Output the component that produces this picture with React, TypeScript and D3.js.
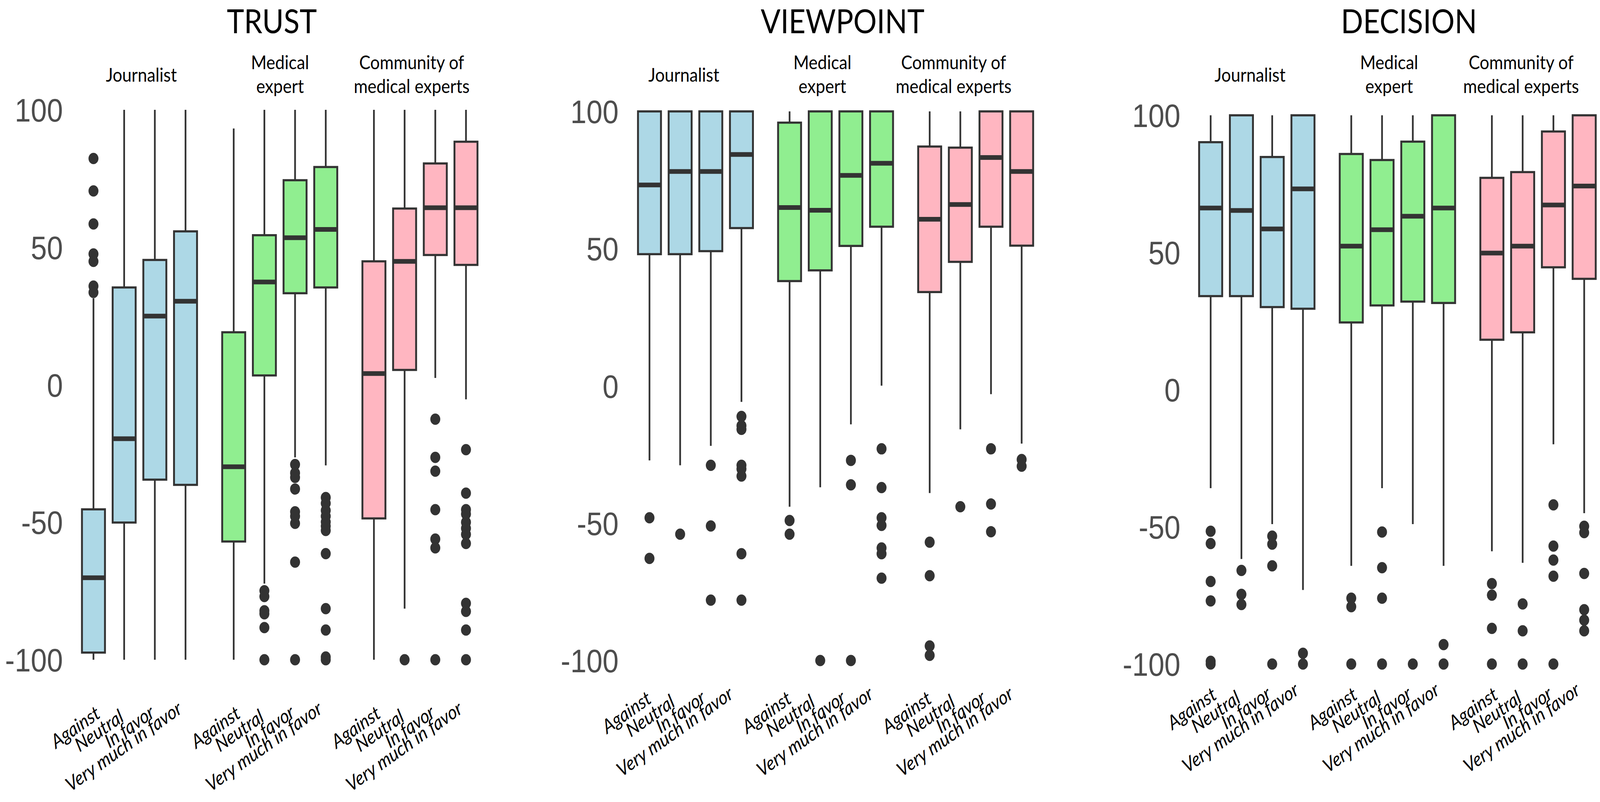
import React from 'react';
import * as d3 from 'd3';

// Box plots of three ratings by source and by prior attitude.
const CATEGORIES = ['Against', 'Neutral', 'In favor', 'Very much in favor'];
const GROUP_LINES = [['Journalist'], ['Medical', 'expert'], ['Community of', 'medical experts']];
const GROUP_COLORS = ['#ADD8E6', '#90EE90', '#FFB6C1'];
const Y_TICKS = [100, 50, 0, -50, -100];
const PANEL_TITLES = ['TRUST', 'VIEWPOINT', 'DECISION'];

// [lower whisker, Q1, median, Q3, upper whisker]; Journalist x4, Medical expert x4, Community x4
const TRUST_BOXES = [
  [-100, -97.4, -70.2, -45.3, 31.5],
  [-100, -50.1, -19.6, 35.4, 100],
  [-100, -34.5, 25.0, 45.4, 100],
  [-100, -36.4, 30.4, 55.8, 100],
  [-100, -57.0, -29.8, 19.1, 93.2],
  [-72.3, 3.4, 37.4, 54.4, 100],
  [-26.4, 33.3, 53.5, 74.4, 100],
  [-29.3, 35.4, 56.5, 79.2, 100],
  [-100, -48.6, 4.1, 44.9, 100],
  [-81.4, 5.4, 44.9, 64.1, 100],
  [2.5, 47.2, 64.4, 80.5, 100],
  [-5.3, 43.6, 64.4, 88.4, 100],
];
const TRUST_OUTLIERS = [
  [82.3, 70.5, 58.5, 47.6, 44.9, 35.9, 33.6],
  [],
  [],
  [],
  [],
  [-74.9, -77.0, -82.2, -83.3, -88.3, -100],
  [-29.0, -32.1, -33.7, -37.9, -46.2, -47.8, -50.4, -64.5, -100],
  [-41.0, -43.1, -45.7, -47.8, -49.9, -51.4, -53.0, -61.4, -81.4, -89.2, -99, -100],
  [],
  [-100],
  [-12.5, -26.4, -31.4, -45.4, -56.1, -59.3, -100],
  [-23.6, -39.4, -45.4, -47.0, -50.0, -52.2, -54.4, -57.7, -79.5, -82.4, -89.2, -100],
];

const VIEWPOINT_BOXES = [
  [-27.1, 48.0, 73.2, 100, 100],
  [-28.9, 48.0, 78.1, 100, 100],
  [-21.8, 49.1, 78.1, 100, 100],
  [-5.8, 57.5, 84.3, 100, 100],
  [-44.0, 38.2, 65.0, 95.9, 100],
  [-36.9, 42.1, 64.0, 100, 100],
  [-14.0, 51.0, 76.7, 100, 100],
  [0.1, 58.0, 81.1, 100, 100],
  [-39.0, 34.2, 60.7, 87.2, 100],
  [-15.8, 45.2, 66.1, 86.8, 100],
  [-3.0, 58.0, 83.2, 100, 100],
  [-21.0, 51.1, 78.1, 100, 100],
];
const VIEWPOINT_OUTLIERS = [
  [-48.0, -62.8],
  [-54.0],
  [-28.9, -51.0, -78.0],
  [-11.1, -14.5, -15.8, -28.9, -30.2, -32.8, -61.1, -78.0],
  [-49.0, -54.0],
  [-100],
  [-27.1, -36.0, -100],
  [-22.9, -37.0, -48.0, -50.8, -59.0, -61.1, -70.0],
  [-56.9, -69.1, -94.7, -98.1],
  [-44.0],
  [-22.9, -43.0, -53.1],
  [-26.8, -29.2],
];

const DECISION_BOXES = [
  [-35.9, 34.1, 66.2, 90.2, 100],
  [-61.7, 34.1, 65.3, 100, 100],
  [-49.0, 30.1, 58.6, 84.8, 100],
  [-73.0, 29.5, 73.2, 100, 100],
  [-64.2, 24.5, 52.3, 85.9, 100],
  [-35.9, 30.7, 58.3, 83.7, 100],
  [-49.0, 32.1, 63.2, 90.4, 100],
  [-64.2, 31.6, 66.2, 100, 100],
  [-58.9, 18.2, 49.8, 77.2, 100],
  [-63.1, 20.9, 52.3, 79.3, 100],
  [-19.9, 44.6, 67.3, 94.1, 100],
  [-45.0, 40.4, 74.2, 100, 100],
];
const DECISION_OUTLIERS = [
  [-51.6, -56.1, -69.9, -77.0, -99, -100],
  [-65.9, -74.6, -78.3],
  [-53.4, -56.3, -64.2, -100],
  [-96.1, -100],
  [-76.0, -79.1, -100],
  [-51.9, -64.9, -76.0, -100],
  [-100],
  [-92.9, -100],
  [-70.7, -74.9, -87.0, -100],
  [-78.1, -87.9, -100],
  [-42.0, -57.0, -62.1, -68.0, -100],
  [-49.8, -52.1, -67.0, -80.2, -84.0, -87.9],
];

const PANEL_BOXES = [TRUST_BOXES, VIEWPOINT_BOXES, DECISION_BOXES];
const PANEL_OUTLIERS = [TRUST_OUTLIERS, VIEWPOINT_OUTLIERS, DECISION_OUTLIERS];

// layout: each panel was a separate plot, so positions differ slightly
const WIDTH = 4656;
const HEIGHT = 2052;
const GROUP_STEP = 4.57; // slots from one group start to the next
const LAYOUT = [
  { x0: 272, x1: 1356, yTop: 281, yBot: 1688, tickRight: 183, titleX: 791, groupAt: [1.56, 6.08, 10.37], labelDx: 5, labelY: 1833 },
  { x0: 1890, x1: 2973, yTop: 285, yBot: 1690, tickRight: 1800, titleX: 2452, groupAt: [1.12, 5.64, 9.92], labelDx: -9, labelY: 1795 },
  { x0: 3523, x1: 4610, yTop: 295, yBot: 1699, tickRight: 3435, titleX: 4100, groupAt: [1.28, 5.8, 10.09], labelDx: 3, labelY: 1785 },
];
// tick labels are not quite end-aligned in the original
const LABEL_SHIFT_X = [18, -3, -3, -12];
const LABEL_SHIFT_Y = [1, 10, -1, -11];
const LABEL_ANGLE = 32;

const INK = '#333333';
const LABEL_FONT = "Lato, 'Open Sans', 'Noto Sans', sans-serif";
const TICK_FONT = "'Liberation Sans', Arial, sans-serif";

function Panel({ index }: { index: number }) {
  const L = LAYOUT[index];
  const boxes = PANEL_BOXES[index];
  const outliers = PANEL_OUTLIERS[index];

  const x = d3.scaleLinear().domain([0, 2 * GROUP_STEP + 3]).range([L.x0, L.x1]);
  const y = d3.scaleLinear().domain([100, -100]).range([L.yTop, L.yBot]);
  const step = x(1) - x(0);
  const bw = step * 0.75;
  const slot = (k: number) => Math.floor(k / 4) * GROUP_STEP + (k % 4);

  return (
    <g>
      <text x={L.titleX} y={85} textAnchor="middle" fontFamily={LABEL_FONT} fontSize={85} fill="#000">
        {PANEL_TITLES[index]}
      </text>

      {GROUP_LINES.map((lines, g) => (
        <text key={g} textAnchor="middle" fontFamily={LABEL_FONT} fontSize={49} fill="#000">
          {lines.map((ln, j) => (
            <tspan key={j} x={x(L.groupAt[g])} y={lines.length === 1 ? 209 : 177 + j * 61}>{ln}</tspan>
          ))}
        </text>
      ))}

      {Y_TICKS.map(t => (
        <text key={t} x={L.tickRight} y={y(t)} dy="0.36em" textAnchor="end"
          fontFamily={TICK_FONT} fontSize={84} fill="#4D4D4D">
          {t}
        </text>
      ))}

      {boxes.map((b, k) => {
        const g = Math.floor(k / 4);
        const cx = x(slot(k));
        const [lo, q1, med, q3, hi] = b;
        return (
          <g key={k}>
            {hi > q3 && <line x1={cx} x2={cx} y1={y(q3)} y2={y(hi)} stroke={INK} strokeWidth={5} />}
            {lo < q1 && <line x1={cx} x2={cx} y1={y(q1)} y2={y(lo)} stroke={INK} strokeWidth={5} />}
            <rect x={cx - bw / 2} y={y(q3)} width={bw} height={y(q1) - y(q3)}
              fill={GROUP_COLORS[g]} stroke={INK} strokeWidth={5.5} />
            <line x1={cx - bw / 2} x2={cx + bw / 2} y1={y(med)} y2={y(med)} stroke={INK} strokeWidth={12} />
            {outliers[k].map((v, j) => (
              <circle key={j} cx={cx} cy={y(v)} r={14.5} fill={INK} />
            ))}
          </g>
        );
      })}

      {boxes.map((_, k) => {
        const c = k % 4;
        const tx = x(slot(k)) + L.labelDx + LABEL_SHIFT_X[c];
        const ty = L.labelY + LABEL_SHIFT_Y[c];
        return (
          <text key={k} transform={`translate(${tx},${ty}) rotate(${-LABEL_ANGLE})`}
            textAnchor="end" fontFamily={LABEL_FONT} fontStyle="italic" fontSize={50} fill="#000">
            {CATEGORIES[c]}
          </text>
        );
      })}
    </g>
  );
}

export default function App() {
  // the viewBox is stretched over the whole viewport so the layout lines up with the original
  return (
    <svg viewBox={`0 0 ${WIDTH} ${HEIGHT}`} preserveAspectRatio="none"
      style={{ position: 'fixed', left: 0, top: 0, width: '100vw', height: '100vh', display: 'block', background: '#fff' }}>
      {PANEL_TITLES.map((_, i) => <Panel key={i} index={i} />)}
    </svg>
  );
}
